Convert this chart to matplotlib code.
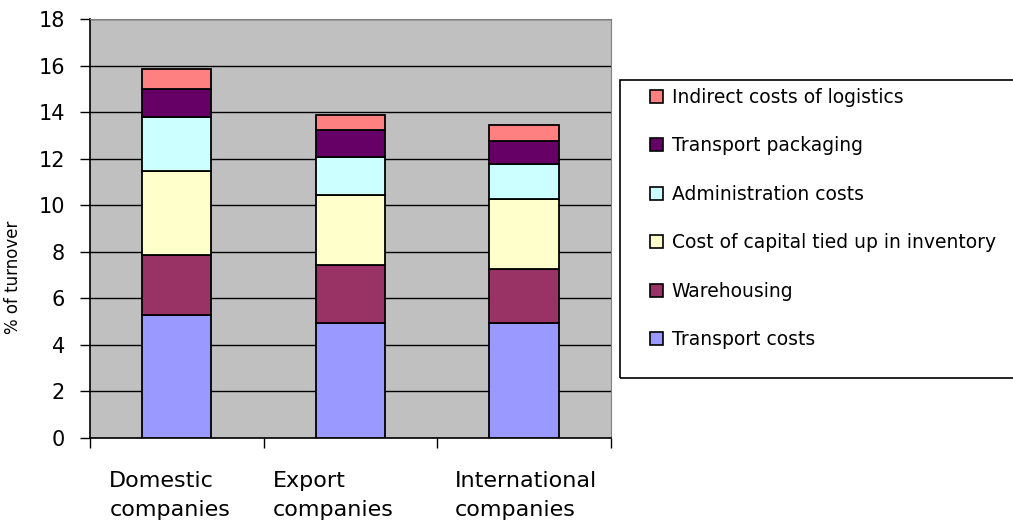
import matplotlib.pyplot as plt
from matplotlib.patches import Rectangle, Patch
from matplotlib.transforms import ScaledTranslation
import numpy as np

# values (% of turnover)
categories = ["Domestic\ncompanies", "Export\ncompanies", "International\ncompanies"]
series_names = [
    "Transport costs",
    "Warehousing",
    "Cost of capital tied up in inventory",
    "Administration costs",
    "Transport packaging",
    "Indirect costs of logistics",
]
transport = [5.27, 4.94, 4.94]
warehousing = [2.59, 2.49, 2.33]
capital = [3.61, 3.01, 3.01]
administration = [2.30, 1.63, 1.50]
packaging = [1.22, 1.14, 0.99]
indirect = [0.86, 0.66, 0.67]
colors = ["#9999FF", "#993366", "#FFFFCC", "#CCFFFF", "#660066", "#FF8080"]

series = [transport, warehousing, capital, administration, packaging, indirect]

fig = plt.figure(figsize=(10.13, 5.30), dpi=100)
ax = fig.add_axes([0.0888, 0.1736, 0.514, 0.7906])
ax.set_facecolor("#C0C0C0")

x = np.arange(len(categories))
bottom = np.zeros(len(categories))
for vals, name, col in zip(series, series_names, colors):
    ax.bar(x, vals, width=0.4, bottom=bottom, color=col, edgecolor="black",
           linewidth=1.3, label=name, zorder=3)
    bottom += np.array(vals)

ax.set_xlim(-0.5, 2.5)
ax.set_ylim(0, 18)
ax.set_yticks(range(0, 19, 2))
ax.yaxis.grid(True, color="black", linewidth=1, zorder=1)
ax.tick_params(axis="y", length=7, width=1, pad=11, labelsize=15, color="black")

# ticks between categories, labels in the middle
ax.set_xticks([-0.5, 0.5, 1.5, 2.5])
ax.set_xticklabels([])
ax.tick_params(axis="x", which="major", length=7, width=1)
ax.set_xticks(x, minor=True)
ax.set_xticklabels(categories, minor=True, fontsize=16, multialignment="left",
                   linespacing=1.55)
ax.tick_params(axis="x", which="minor", length=0, pad=24)
# excel wraps these a bit off-centre
shifts = [-7, -17, 2]
for lab, dx in zip(ax.get_xticklabels(minor=True), shifts):
    lab.set_transform(lab.get_transform() + ScaledTranslation(dx / 100, 0, fig.dpi_scale_trans))

ax.set_ylabel("% of turnover", fontsize=12)
ax.yaxis.set_label_coords(-0.13, 0.383)

for s in ["top", "right"]:
    ax.spines[s].set_color("#808080")
for s in ["left", "bottom"]:
    ax.spines[s].set_color("black")
    ax.spines[s].set_linewidth(1.2)

# legend, reversed order, with its own box
handles = [Patch(facecolor=c, edgecolor="black", linewidth=1.2) for c in colors][::-1]
leg = ax.legend(handles, series_names[::-1], loc="upper left",
                bbox_to_anchor=(650 / 1013, 1 - 88 / 530), bbox_transform=fig.transFigure,
                frameon=False, borderpad=0, borderaxespad=0, fontsize=13.5,
                handlelength=0.7, handleheight=0.7, handletextpad=0.45,
                labelspacing=1.57)
fig.patches.append(Rectangle((620 / 1013, (530 - 378) / 530), (1020 - 620) / 1013,
                             (378 - 80) / 530, transform=fig.transFigure,
                             fill=False, edgecolor="black", linewidth=1.2))

fig.savefig("out.png", dpi=100)
